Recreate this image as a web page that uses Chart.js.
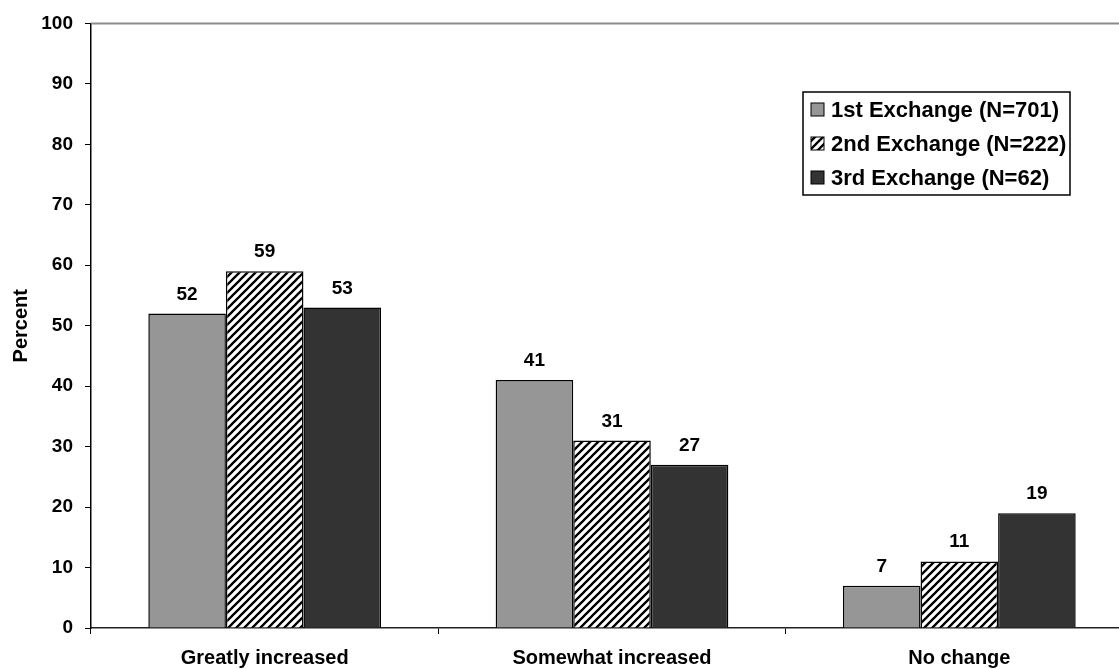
<!DOCTYPE html>
<html>
<head>
<meta charset="utf-8">
<script src="https://cdn.jsdelivr.net/npm/chart.js@4/dist/chart.umd.min.js"></script>
<style>
  html, body { margin: 0; padding: 0; background: #fff; overflow: hidden; width: 1119px; height: 669px; }
  #wrap { position: absolute; left: 0; top: 0; width: 1140px; height: 669px; }
</style>
</head>
<body>
<div id="wrap"><canvas id="c"></canvas></div>
<script>
// Survey responses by exchange round (percent)
const categories = ['Greatly increased', 'Somewhat increased', 'No change'];
const seriesNames = ['1st Exchange (N=701)', '2nd Exchange (N=222)', '3rd Exchange (N=62)'];
const firstExchange = [52, 41, 7];
const secondExchange = [59, 31, 11];
const thirdExchange = [53, 27, 19];
const yMin = 0, yMax = 100, yStep = 10;

const FONT = '"Liberation Sans", Arial, sans-serif';

// Diagonal black/white hatch fill
function makeHatch() {
  const tile = document.createElement('canvas');
  tile.width = 8; tile.height = 8;
  const g = tile.getContext('2d');
  g.fillStyle = '#fff';
  g.fillRect(0, 0, 8, 8);
  g.strokeStyle = '#000';
  g.lineWidth = 2.3;
  g.beginPath();
  g.moveTo(-2, 10); g.lineTo(10, -2);
  g.moveTo(-6, 6); g.lineTo(6, -6);
  g.moveTo(2, 14); g.lineTo(14, 2);
  g.stroke();
  return document.createElement('canvas').getContext('2d').createPattern(tile, 'repeat');
}
const hatch = makeHatch();

const fills = ['#969696', hatch, '#333333'];
const values = [firstExchange, secondExchange, thirdExchange];

const decorations = {
  id: 'decorations',
  afterDatasetsDraw(chart) {
    const { ctx, chartArea } = chart;
    ctx.save();
    // top frame line
    ctx.strokeStyle = '#8c8c8c';
    ctx.lineWidth = 2;
    ctx.beginPath();
    ctx.moveTo(chartArea.left, chartArea.top);
    ctx.lineTo(chartArea.right, chartArea.top);
    ctx.stroke();

    // value labels above each bar
    ctx.fillStyle = '#000';
    ctx.font = 'bold 19px ' + FONT;
    ctx.textAlign = 'center';
    ctx.textBaseline = 'alphabetic';
    chart.data.datasets.forEach((ds, i) => {
      const meta = chart.getDatasetMeta(i);
      meta.data.forEach((bar, j) => {
        ctx.fillText(String(ds.data[j]), bar.x, bar.y - 14);
      });
    });

    // legend box
    const bx = 803, by = 92, bw = 267, bh = 103;
    ctx.fillStyle = '#fff';
    ctx.fillRect(bx, by, bw, bh);
    ctx.strokeStyle = '#000';
    ctx.lineWidth = 1.5;
    ctx.strokeRect(bx, by, bw, bh);
    ctx.font = 'bold 22px ' + FONT;
    ctx.textAlign = 'left';
    ctx.textBaseline = 'middle';
    chart.data.datasets.forEach((ds, i) => {
      const cy = 110 + i * 34;
      ctx.fillStyle = ds.backgroundColor;
      ctx.fillRect(811, cy - 7, 13, 13);
      ctx.strokeStyle = '#000';
      ctx.lineWidth = 1;
      ctx.strokeRect(811, cy - 7, 13, 13);
      ctx.fillStyle = '#000';
      ctx.fillText(ds.label, 831, cy + 1);
    });
    ctx.restore();
  }
};

new Chart(document.getElementById('c'), {
  type: 'bar',
  data: {
    labels: categories,
    datasets: seriesNames.map((name, i) => ({
      label: name,
      data: values[i],
      backgroundColor: fills[i],
      borderColor: '#000',
      borderWidth: 1.5,
      categoryPercentage: 0.67,
      barPercentage: 1.0
    }))
  },
  options: {
    responsive: true,
    maintainAspectRatio: false,
    animation: false,
    layout: { padding: { top: 23, right: 7, left: 0, bottom: 0 } },
    plugins: { legend: { display: false }, tooltip: { enabled: false } },
    scales: {
      x: {
        afterFit(scale) { scale.height = 41; },
        grid: { display: true, drawOnChartArea: false, drawTicks: true, tickLength: 6, color: '#000', offset: true },
        border: { display: true, color: '#222', width: 1.5 },
        ticks: { color: '#000', font: { family: FONT, size: 20, weight: 'bold' }, padding: 12, maxRotation: 0 }
      },
      y: {
        min: yMin, max: yMax,
        afterFit(scale) { scale.width = 91; },
        grid: { display: true, drawOnChartArea: false, drawTicks: true, tickLength: 6, color: '#000' },
        border: { display: true, color: '#000', width: 1.5 },
        ticks: { stepSize: yStep, color: '#000', font: { family: FONT, size: 19, weight: 'bold' }, padding: 12 },
        title: { display: true, text: 'Percent', color: '#000', font: { family: FONT, size: 20, weight: 'bold' }, padding: { top: 9, bottom: 0 } }
      }
    }
  },
  plugins: [decorations]
});
</script>
</body>
</html>
